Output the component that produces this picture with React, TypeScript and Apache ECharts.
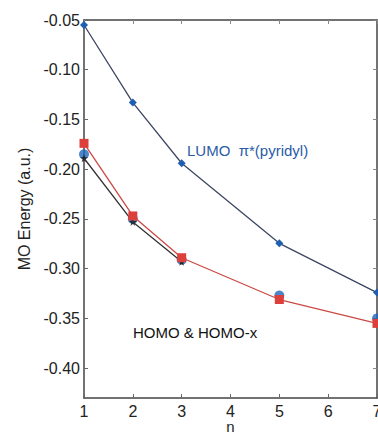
import React, { useEffect, useRef } from "react";
import * as echarts from "echarts";

const nValues = [1, 2, 3, 5, 7];
const lumo = [-0.055, -0.133, -0.194, -0.2745, -0.324];
const homoRed = [-0.174, -0.247, -0.289, -0.331, -0.355];
const homoBlue = [-0.185, -0.25, -0.291, -0.327, -0.350];
const starN = [1, 2, 3];
const homoStar = [-0.189, -0.253, -0.293];
const yTicks = [-0.4, -0.35, -0.3, -0.25, -0.2, -0.15, -0.1, -0.05];
const xTicks = [1, 2, 3, 4, 5, 6, 7];

const FONT = "Liberation Sans, Arial, sans-serif";

export default function App() {
  const ref = useRef<HTMLDivElement>(null);
  useEffect(() => {
    const chart = echarts.init(ref.current!, null, { renderer: "svg" });
    const pair = (xs: number[], ys: number[]) => xs.map((x, i) => [x, ys[i]]);
    const axisLine = { show: true, lineStyle: { color: "#444", width: 1.5 } };
    chart.setOption({
      animation: false,
      backgroundColor: "#fff",
      grid: { left: 84, top: 20, right: 1, bottom: 37, outerBoundsMode: "none", containLabel: false },
      xAxis: [
        {
          type: "value", min: 1, max: 7, interval: 1, position: "bottom",
          name: "n", nameLocation: "middle", nameGap: 21, nameMoveOverlap: false,
          nameTextStyle: { fontFamily: FONT, fontSize: 15, color: "#222", lineHeight: 15 },
          axisLine, splitLine: { show: false },
          axisTick: { inside: true, length: 4, lineStyle: { color: "#666" } },
          axisLabel: { fontFamily: FONT, fontSize: 16, color: "#222", margin: 5 },
        },
        {
          type: "value", min: 1, max: 7, interval: 1, position: "top",
          axisLine, splitLine: { show: false },
          axisTick: { inside: true, length: 4, lineStyle: { color: "#888" } },
          axisLabel: { show: false },
        },
      ],
      yAxis: [
        {
          type: "value", min: -0.43, max: -0.05, position: "left",
          name: "MO Energy (a.u.)", nameLocation: "middle", nameGap: 52, nameRotate: 90,
          nameMoveOverlap: false,
          nameTextStyle: { fontFamily: FONT, fontSize: 16, color: "#222" },
          axisLine, splitLine: { show: false },
          axisTick: { inside: true, length: 4, customValues: yTicks, lineStyle: { color: "#666" } },
          axisLabel: {
            fontFamily: FONT, fontSize: 16, color: "#222", margin: 4,
            customValues: yTicks,
            formatter: (v: number) => v.toFixed(2),
          },
        },
        {
          type: "value", min: -0.43, max: -0.05, position: "right",
          axisLine, splitLine: { show: false },
          axisTick: { inside: true, length: 4, customValues: yTicks, lineStyle: { color: "#888" } },
          axisLabel: { show: false },
        },
      ],
      series: [
        {
          type: "line", name: "LUMO", data: pair(nValues, lumo),
          symbol: "diamond", symbolSize: 8,
          lineStyle: { color: "#3d4763", width: 1.3 },
          itemStyle: { color: "#1f5fb0" },
        },
        {
          type: "line", name: "HOMO-black", data: pair(starN, homoStar),
          symbol: "none",
          lineStyle: { color: "#333", width: 1.3 },
        },
        {
          type: "line", name: "HOMO-red", data: pair(nValues, homoRed),
          symbol: "rect", symbolSize: 9,
          lineStyle: { color: "#cc4a45", width: 1.3 },
          itemStyle: { color: "#dd3f3a" },
        },
        {
          type: "scatter", name: "HOMO-blue", data: pair(nValues, homoBlue),
          symbol: "circle", symbolSize: 10,
          itemStyle: { color: "#1e68bd" },
        },
        {
          type: "scatter", name: "HOMO-star", data: pair(starN, homoStar),
          symbol: "path://M50,0 L61,35 L98,35 L68,57 L79,91 L50,70 L21,91 L32,57 L2,35 L39,35 Z",
          symbolSize: 8,
          itemStyle: { color: "#111" },
        },
      ],
      graphic: [
        {
          type: "text", left: 187, top: 143,
          style: { text: "LUMO  \u03c0*(pyridyl)", fontFamily: FONT, fontSize: 15, fill: "#2a5ca8" },
        },
        {
          type: "text", left: 133, top: 325,
          style: { text: "HOMO & HOMO-x", fontFamily: FONT, fontSize: 15, fill: "#111" },
        },
      ],
    });
    return () => chart.dispose();
  }, []);
  return <div ref={ref} style={{ width: 378, height: 435, position: "absolute", left: 0, top: 0 }} />;
}
